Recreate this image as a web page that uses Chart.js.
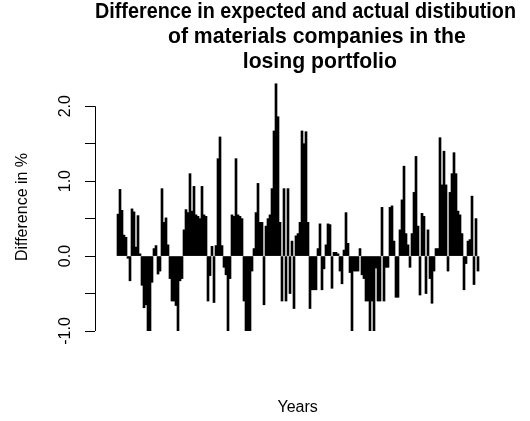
<!DOCTYPE html>
<html>
<head>
<meta charset="utf-8">
<script src="https://cdn.jsdelivr.net/npm/chart.js@4.4.1/dist/chart.umd.min.js"></script>
<style>
  html, body { margin: 0; padding: 0; background: #fff; }
  #wrap { width: 530px; height: 421px; }
</style>
</head>
<body>
<div id="wrap"><canvas id="chart-diff"></canvas></div>
<script>
const diffPct = [
  0.56, 0.89, 0.61, 0.28, 0.25, -0.03, -0.33, 0.63, 0.59, 0.12,
  0.54, 0.03, -0.39, -0.69, -0.65, -1.0, -1.0, -0.35, 0.1, 0.14,
  -0.24, -0.2, 0.9, 0.45, 0.51, 0.15, -0.3, -0.6, -0.6, -0.66,
  -1.0, -0.33, -0.3, 0.35, 0.62, 0.58, 1.1, 0.6, 0.93, 0.55,
  0.53, 0.5, 0.93, 0.55, 0.53, -0.6, -0.26, 0.13, -0.62, 0.14,
  1.3, 1.59, 0.14, -0.15, -0.25, -1.0, -0.3, 0.55, 0.53, 1.3,
  0.55, 0.53, 0.5, -0.6, -1.0, -1.0, -1.0, -0.2, 0.1, 0.58,
  0.97, 0.45, 0.45, -0.65, 0.4, 0.5, 0.55, 0.9, 1.67, 2.3,
  1.86, 0.45, -0.6, 0.9, -0.6, 0.9, -0.5, 0.2, -0.7, 0.27,
  0.3, 0.45, 1.67, 1.5, 1.66, 0.45, -0.7, -0.45, -0.45, -0.45,
  0.1, 0.43, -0.45, -0.17, 0.15, 0.43, 0.42, -0.43, 0.05, 0.05,
  0.03, -0.2, -0.37, 0.08, 0.58, 0.17, -0.22, -1.0, -0.2, -0.2,
  -0.2, 0.1, -0.25, -0.3, -0.6, -0.6, -1.0, -0.6, -1.0, -0.16,
  -0.6, -0.6, 0.65, -0.6, -0.15, -0.15, 0.65, 0.67, 0.2, -0.55,
  -0.55, 0.35, 0.75, 1.2, 0.3, 0.15, -0.15, 0.3, 0.85, 1.33,
  0.4, -0.52, 0.57, 0.53, -0.5, 0.35, -0.3, -0.63, -0.2, 0.1,
  0.1, 1.58, 0.95, 1.4, 0.95, -0.2, 0.85, 1.1, 1.38, 1.1,
  0.6, 0.55, 0.3, -0.45, -0.1, 0.2, 0.22, 0.8, -0.38, 0.5,
  -0.2
];
const obsNo = diffPct.map((v, i) => i);

const yTicks = [-1, 0, 1, 2];
const yTickLabels = ['-1.0', '0.0', '1.0', '2.0'];

const titleLines = [
  'Difference in expected and actual distibution  ',
  '  of materials companies in the',
  '   losing portfolio'
];
const xTitle = 'Years      ';

const font = 'Liberation Sans, Arial, sans-serif';

// R draws the y axis line only from the first to the last labelled tick
const axisLine = {
  id: 'axisLine',
  afterDraw(chart) {
    const ys = chart.scales.y;
    const ctx = chart.ctx;
    const x = Math.round(chart.chartArea.left) + 0.5;
    ctx.save();
    ctx.strokeStyle = '#000';
    ctx.lineWidth = 1;
    ctx.beginPath();
    ctx.moveTo(x, ys.getPixelForValue(yTicks[yTicks.length - 1]));
    ctx.lineTo(x, ys.getPixelForValue(yTicks[0]));
    ctx.stroke();
    ctx.restore();
  }
};

new Chart(document.getElementById('chart-diff'), {
  type: 'bar',
  data: {
    datasets: [{
      label: 'Difference in %',
      data: obsNo.map((x, i) => ({ x: x, y: diffPct[i] })),
      backgroundColor: '#000',
      borderWidth: 0,
      barPercentage: 1,
      categoryPercentage: 1
    }]
  },
  options: {
    responsive: true,
    maintainAspectRatio: false,
    animation: false,
    layout: { padding: { left: 0, right: 3, top: 0, bottom: 0 } },
    plugins: {
      legend: { display: false },
      tooltip: { enabled: false },
      title: {
        display: true,
        text: titleLines,
        fullSize: false,
        color: '#000',
        font: { family: font, size: 21.2, weight: 'bold', lineHeight: 25 / 21.2 },
        padding: { top: 0, bottom: 8 }
      }
    },
    scales: {
      x: {
        type: 'linear',
        min: -11.5,
        max: 204.5,
        offset: false,
        grid: { display: false },
        border: { display: false },
        ticks: { display: false },
        title: {
          display: true,
          text: xTitle,
          color: '#000',
          font: { family: font, size: 16 },
          padding: { top: 0, bottom: 4 }
        },
        afterFit: (s) => { s.height = 90; }
      },
      y: {
        min: -1,
        max: 2.31,
        border: { display: false },
        grid: {
          display: true,
          drawOnChartArea: false,
          drawTicks: true,
          tickLength: 10,
          tickColor: '#000',
          color: '#000'
        },
        ticks: {
          stepSize: 0.5,
          includeBounds: false,
          autoSkip: false,
          minRotation: 90,
          maxRotation: 90,
          crossAlign: 'center',
          padding: 6,
          color: '#000',
          font: { family: font, size: 16 },
          callback: (v) => {
            const k = yTicks.indexOf(v);
            return k >= 0 ? yTickLabels[k] : '';
          }
        },
        title: {
          display: true,
          text: 'Difference in %',
          color: '#000',
          font: { family: font, size: 16 },
          padding: { top: 13, bottom: 0 }
        },
        afterFit: (s) => { s.width = 95; }
      }
    }
  },
  plugins: [axisLine]
});
</script>
</body>
</html>
